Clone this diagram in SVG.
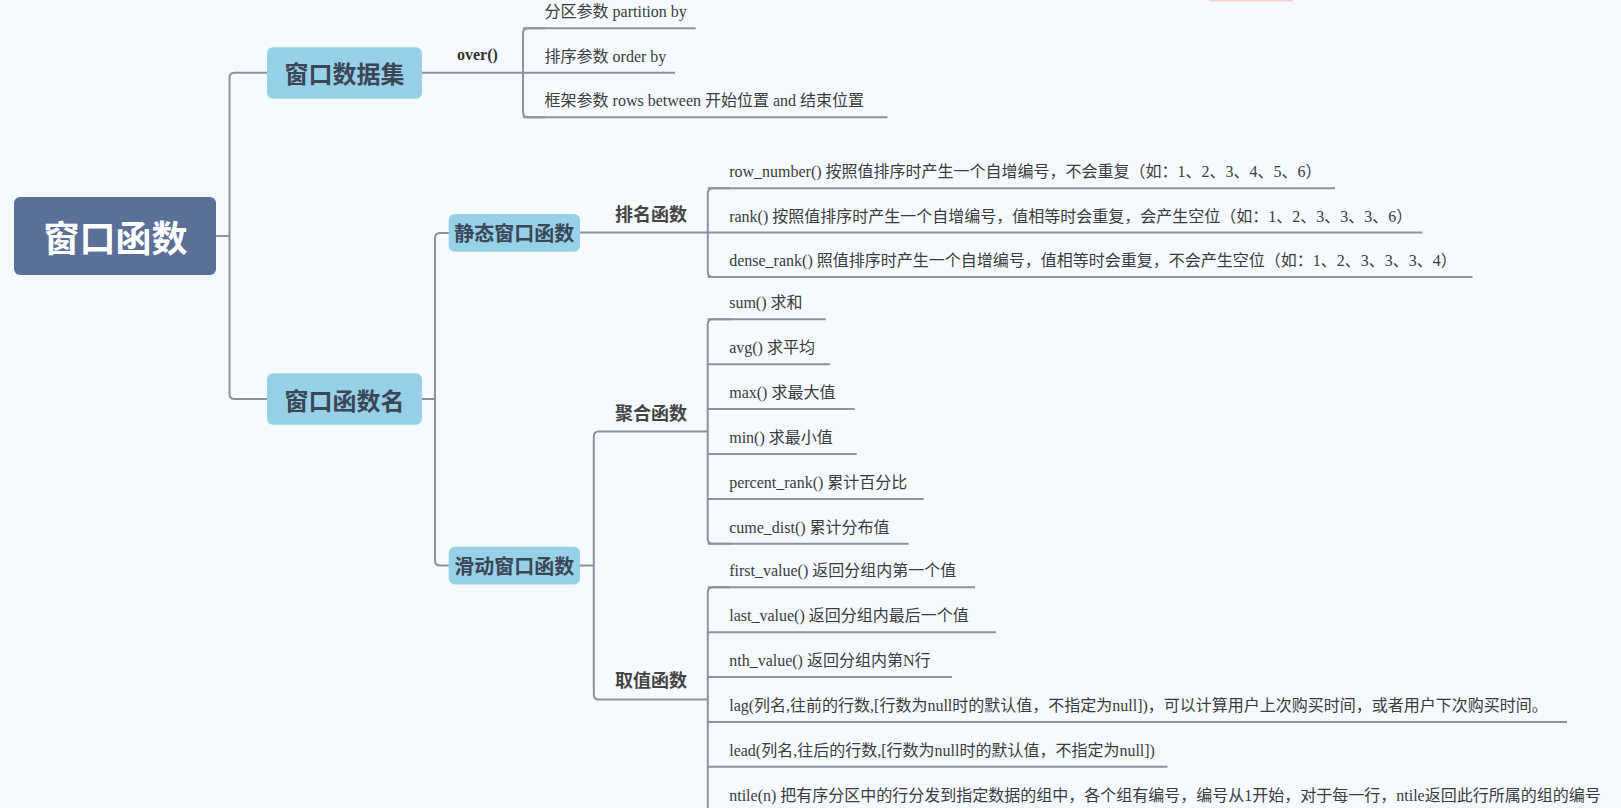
<svg xmlns="http://www.w3.org/2000/svg" width="1621" height="808" viewBox="0 0 1621 808">
<style>
.bg{fill:#f5fafe}
.ln{fill:none;stroke:#8993a5;stroke-width:2}
.root{fill:#5b7098}
.sub{fill:#96d1e7}
.rt{font-family:"Noto Sans CJK SC",sans-serif;font-weight:bold;font-size:36px;fill:#ffffff;text-anchor:middle;dominant-baseline:central}
.st{font-family:"Noto Sans CJK SC",sans-serif;font-weight:bold;font-size:24px;fill:#3b4656;text-anchor:middle;dominant-baseline:central}
.st2{font-family:"Noto Sans CJK SC",sans-serif;font-weight:bold;font-size:20px;fill:#3b4656;text-anchor:middle;dominant-baseline:central}
.lb{font-family:"Noto Sans CJK SC",sans-serif;font-weight:bold;font-size:18px;fill:#454545}
.ov{font-family:"Liberation Serif",serif;font-weight:bold;font-size:16px;fill:#333333}
.tx{font-family:"Liberation Serif","Noto Sans CJK SC",serif;font-size:16px;fill:#3c3c3c}
</style>
<rect class="bg" x="0" y="0" width="1621" height="808"/>
<rect x="1209" y="0" width="84" height="1.5" fill="#fbd0c4"/>

<g id="connectors">
  <path class="ln" d="M216,236 H229.5"/>
  <path class="ln" d="M267,72.7 H234.5 Q229.5,72.7 229.5,77.7 V394 Q229.5,399 234.5,399 H267"/>
  <path class="ln" d="M422,72.7 H523"/>
  <path class="ln" d="M545,28.3 H528 Q523,28.3 523,33.3 V112.3 Q523,117.3 528,117.3 H545"/>
  <path class="ln" d="M422,399 H435"/>
  <path class="ln" d="M449,233 H440 Q435,233 435,238 V560.5 Q435,565.5 440,565.5 H449"/>
  <path class="ln" d="M580,232.6 H707.8"/>
  <path class="ln" d="M730,188.3 H712.8 Q707.8,188.3 707.8,193.3 V271.9 Q707.8,276.9 712.8,276.9 H730"/>
  <path class="ln" d="M580,565.5 H593.8"/>
  <path class="ln" d="M615,431.5 H598.8 Q593.8,431.5 593.8,436.5 V694.4 Q593.8,699.4 598.8,699.4 H615"/>
  <path class="ln" d="M615,431.5 H707.7"/>
  <path class="ln" d="M730,319.3 H712.7 Q707.7,319.3 707.7,324.3 V538.8 Q707.7,543.8 712.7,543.8 H730"/>
  <path class="ln" d="M615,699.4 H707.8"/>
  <path class="ln" d="M730,587.3 H712.8 Q707.8,587.3 707.8,592.3 V808"/>
</g>

<g id="root">
  <rect class="root" x="14" y="197" width="202" height="78" rx="6"/>
  <text class="rt" x="115.5" y="236">窗口函数</text>
</g>

<g id="n-dataset">
  <rect class="sub" x="267" y="47.3" width="155" height="51.4" rx="6"/>
  <text class="st" x="344.5" y="72.7">窗口数据集</text>
</g>
<g id="n-over">
  <text class="ov" x="457" y="60">over()</text>
</g>
<g id="n-partition">
  <line class="ln" x1="523" y1="28.3" x2="695.7" y2="28.3"/>
  <text class="tx" x="544.6" y="17.3">分区参数 partition by</text>
</g>
<g id="n-order">
  <line class="ln" x1="523" y1="72.7" x2="675" y2="72.7"/>
  <text class="tx" x="544.6" y="61.7">排序参数 order by</text>
</g>
<g id="n-rows">
  <line class="ln" x1="523" y1="117.3" x2="887.5" y2="117.3"/>
  <text class="tx" x="544.6" y="106.3">框架参数 rows between 开始位置 and 结束位置</text>
</g>

<g id="n-funcname">
  <rect class="sub" x="267" y="373.3" width="155" height="51.4" rx="6"/>
  <text class="st" x="344.5" y="399">窗口函数名</text>
</g>

<g id="n-static">
  <rect class="sub" x="448.7" y="214" width="131.3" height="37.7" rx="6"/>
  <text class="st2" x="514.3" y="232.8">静态窗口函数</text>
</g>
<g id="n-sliding">
  <rect class="sub" x="448.7" y="546.7" width="131.3" height="37.7" rx="6"/>
  <text class="st2" x="514.3" y="565.5">滑动窗口函数</text>
</g>

<g id="n-rankfn"><text class="lb" x="615" y="220.6">排名函数</text></g>
<g id="n-aggfn"><text class="lb" x="615" y="419.5">聚合函数</text></g>
<g id="n-valfn"><text class="lb" x="615" y="687.4">取值函数</text></g>

<g id="n-row_number">
  <line class="ln" x1="707.8" y1="188.3" x2="1335" y2="188.3"/>
  <text class="tx" x="729.2" y="177.3">row_number() 按照值排序时产生一个自增编号，不会重复（如：1、2、3、4、5、6）</text>
</g>
<g id="n-rank">
  <line class="ln" x1="707.8" y1="232.6" x2="1422.5" y2="232.6"/>
  <text class="tx" x="729.2" y="221.6">rank() 按照值排序时产生一个自增编号，值相等时会重复，会产生空位（如：1、2、3、3、3、6）</text>
</g>
<g id="n-dense_rank">
  <line class="ln" x1="707.8" y1="276.9" x2="1472.5" y2="276.9"/>
  <text class="tx" x="729.2" y="265.9">dense_rank() 照值排序时产生一个自增编号，值相等时会重复，不会产生空位（如：1、2、3、3、3、4）</text>
</g>

<g id="n-sum">
  <line class="ln" x1="707.7" y1="319.3" x2="825.7" y2="319.3"/>
  <text class="tx" x="729.2" y="308.3">sum() 求和</text>
</g>
<g id="n-avg">
  <line class="ln" x1="707.7" y1="364.2" x2="829.7" y2="364.2"/>
  <text class="tx" x="729.2" y="353.2">avg() 求平均</text>
</g>
<g id="n-max">
  <line class="ln" x1="707.7" y1="409.1" x2="854.7" y2="409.1"/>
  <text class="tx" x="729.2" y="398.1">max() 求最大值</text>
</g>
<g id="n-min">
  <line class="ln" x1="707.7" y1="454" x2="856.7" y2="454"/>
  <text class="tx" x="729.2" y="443">min() 求最小值</text>
</g>
<g id="n-percent_rank">
  <line class="ln" x1="707.7" y1="498.9" x2="923.7" y2="498.9"/>
  <text class="tx" x="729.2" y="487.9">percent_rank() 累计百分比</text>
</g>
<g id="n-cume_dist">
  <line class="ln" x1="707.7" y1="543.8" x2="908.7" y2="543.8"/>
  <text class="tx" x="729.2" y="532.8">cume_dist() 累计分布值</text>
</g>

<g id="n-first_value">
  <line class="ln" x1="707.8" y1="587.3" x2="975" y2="587.3"/>
  <text class="tx" x="729.2" y="576.3">first_value() 返回分组内第一个值</text>
</g>
<g id="n-last_value">
  <line class="ln" x1="707.8" y1="632.2" x2="996" y2="632.2"/>
  <text class="tx" x="729.2" y="621.2">last_value() 返回分组内最后一个值</text>
</g>
<g id="n-nth_value">
  <line class="ln" x1="707.8" y1="677" x2="952" y2="677"/>
  <text class="tx" x="729.2" y="666">nth_value() 返回分组内第N行</text>
</g>
<g id="n-lag">
  <line class="ln" x1="707.8" y1="721.9" x2="1567" y2="721.9"/>
  <text class="tx" x="729.2" y="710.9">lag(列名,往前的行数,[行数为null时的默认值，不指定为null])，可以计算用户上次购买时间，或者用户下次购买时间。</text>
</g>
<g id="n-lead">
  <line class="ln" x1="707.8" y1="766.7" x2="1167.5" y2="766.7"/>
  <text class="tx" x="729.2" y="755.7">lead(列名,往后的行数,[行数为null时的默认值，不指定为null])</text>
</g>
<g id="n-ntile">
  <text class="tx" x="729.2" y="800.5">ntile(n) 把有序分区中的行分发到指定数据的组中，各个组有编号，编号从1开始，对于每一行，ntile返回此行所属的组的编号</text>
</g>
</svg>
